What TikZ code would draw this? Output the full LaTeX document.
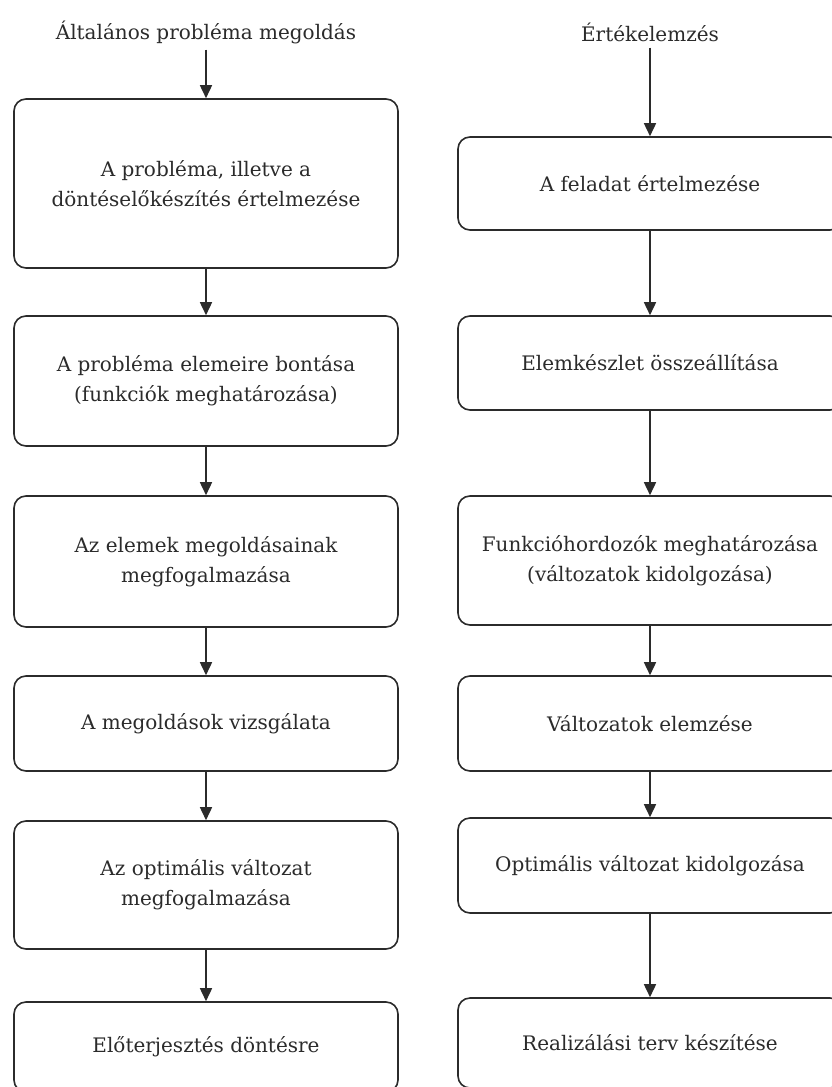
\documentclass[tikz,border=0pt]{standalone}
\usepackage{fontspec}
\setmainfont{DejaVu Serif}
\usetikzlibrary{arrows.meta}
\definecolor{ink}{HTML}{2B2B2B}
\begin{document}
\begin{tikzpicture}[x=1pt,y=-1pt,
  box/.style={draw=ink, line width=1.6pt, rounded corners=12pt, minimum width=384pt,
    align=center, inner sep=0pt, text=ink, font=\fontsize{20}{30}\selectfont},
  ttl/.style={text=ink, inner sep=0pt, font=\fontsize{20}{30}\selectfont},
  arr/.style={draw=ink, line width=1.6pt, -{Triangle[length=13pt,width=12pt]}}]
\clip (0,0) rectangle (832,1087);
\fill[white] (0,0) rectangle (832,1087);
% left column
\node[ttl] (t1) at (206,32) {Általános probléma megoldás};
\node[box, minimum height=169pt] (L1) at (206,183.5) {A probléma, illetve a\\döntéselőkészítés értelmezése};
\node[box, minimum height=130pt] (L2) at (206,381) {A probléma elemeire bontása\\(funkciók meghatározása)};
\node[box, minimum height=131pt] (L3) at (206,561.5) {Az elemek megoldásainak\\megfogalmazása};
\node[box, minimum height=95pt] (L4) at (206,723.5) {A megoldások vizsgálata};
\node[box, minimum height=128pt] (L5) at (206,885) {Az optimális változat\\megfogalmazása};
\node[box, minimum height=90pt] (L6) at (206,1047) {Előterjesztés döntésre};
% right column
\node[ttl] (t2) at (650,32) {Értékelemzés};
\node[box, minimum height=93pt] (R1) at (650,183.5) {A feladat értelmezése};
\node[box, minimum height=94pt] (R2) at (650,363) {Elemkészlet összeállítása};
\node[box, minimum height=129pt] (R3) at (650,560.5) {Funkcióhordozók meghatározása\\(változatok kidolgozása)};
\node[box, minimum height=95pt] (R4) at (650,723.5) {Változatok elemzése};
\node[box, minimum height=95pt] (R5) at (650,865.5) {Optimális változat kidolgozása};
\node[box, minimum height=90pt] (R6) at (650,1043) {Realizálási terv készítése};
% arrows
\draw[arr, shorten <=6pt] (t1) -- (L1);
\draw[arr] (L1) -- (L2);
\draw[arr] (L2) -- (L3);
\draw[arr] (L3) -- (L4);
\draw[arr] (L4) -- (L5);
\draw[arr] (L5) -- (L6);
\draw[arr, shorten <=6pt] (t2) -- (R1);
\draw[arr] (R1) -- (R2);
\draw[arr] (R2) -- (R3);
\draw[arr] (R3) -- (R4);
\draw[arr] (R4) -- (R5);
\draw[arr] (R5) -- (R6);
\end{tikzpicture}
\end{document}
